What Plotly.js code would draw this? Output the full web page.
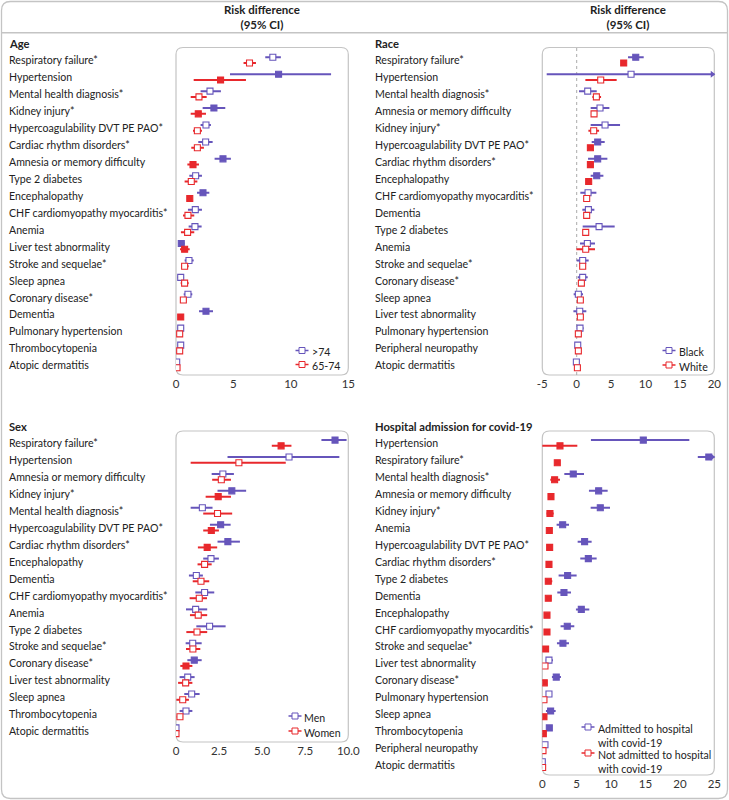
<!DOCTYPE html>
<html>
<head>
<meta charset="utf-8">
<script src="https://cdn.plot.ly/plotly-3.0.1.min.js"></script>
<style>
html,body{margin:0;padding:0;background:#fff;}
#chart{width:729px;height:800px;}
</style>
</head>
<body>
<div id="chart"></div>
<script>
// ---------------- DATA ----------------
// Age panel (purple: >74, red: 65-74)
var ageLabels = ["Respiratory failure*","Hypertension","Mental health diagnosis*","Kidney injury*","Hypercoagulability DVT PE PAO*","Cardiac rhythm disorders*","Amnesia or memory difficulty","Type 2 diabetes","Encephalopathy","CHF cardiomyopathy myocarditis*","Anemia","Liver test abnormality","Stroke and sequelae*","Sleep apnea","Coronary disease*","Dementia","Pulmonary hypertension","Thrombocytopenia","Atopic dermatitis"];
var ageOldEst = [8.43,8.93,2.96,3.30,2.61,2.58,4.09,1.71,2.35,1.68,1.65,0.46,1.13,0.41,1.04,2.61,0.41,0.41,0.06];
var ageOldLo  = [7.77,4.70,2.14,2.32,2.14,1.94,3.36,1.16,1.83,1.04,1.10,0.23,0.75,0.12,0.67,2.00,0.15,0.15,0.00];
var ageOldHi  = [9.13,13.50,3.91,4.29,3.04,3.19,4.78,2.26,2.90,2.26,2.23,0.75,1.54,0.70,1.42,3.22,0.70,0.68,0.15];
var ageYoungEst = [6.40,3.88,2.00,1.94,1.86,1.86,1.48,1.33,1.20,1.04,1.01,0.75,0.75,0.75,0.64,0.41,0.32,0.32,0.09];
var ageYoungLo  = [5.88,1.54,1.28,1.28,1.48,1.33,0.99,0.75,1.05,0.61,0.43,0.35,0.46,0.41,0.43,0.30,0.20,0.20,0.02];
var ageYoungHi  = [6.96,6.09,2.67,2.61,2.26,2.43,2.00,1.86,1.35,1.59,1.59,1.19,1.10,1.10,0.87,0.52,0.45,0.45,0.16];
var ageSig = [0,1,0,1,0,0,1,0,1,0,0,1,0,0,0,1,0,0,0];
var ageTicks = [0,5,10,15];
var ageTickText = ["0","5","10","15"];

// Race panel (purple: Black, red: White)
var raceLabels = ["Respiratory failure*","Hypertension","Mental health diagnosis*","Amnesia or memory difficulty","Kidney injury*","Hypercoagulability DVT PE PAO*","Cardiac rhythm disorders*","Encephalopathy","CHF cardiomyopathy myocarditis*","Dementia","Type 2 diabetes","Anemia","Stroke and sequelae*","Coronary disease*","Sleep apnea","Liver test abnormality","Pulmonary hypertension","Peripheral neuropathy","Atopic dermatitis"];
var raceBlackEst = [8.58,7.90,1.60,3.39,4.12,3.05,3.05,2.91,1.65,1.70,3.25,1.55,0.87,0.87,0.24,0.44,0.48,0.15,-0.05];
var raceBlackLo  = [7.46,-4.36,0.34,2.03,2.03,2.18,1.65,2.03,0.53,0.82,0.87,0.48,0.00,0.15,-0.44,-0.48,0.00,0.00,-0.20];
var raceBlackHi  = [9.74,24.00,2.91,4.75,6.30,4.07,4.46,3.88,2.86,2.57,5.52,2.66,1.74,1.60,0.92,1.40,1.00,0.30,0.10];
var raceWhiteEst = [6.83,3.49,2.86,2.52,2.47,1.99,1.99,1.74,1.45,1.45,1.31,1.31,0.87,0.68,0.53,0.53,0.24,0.24,0.10];
var raceWhiteLo  = [6.65,1.26,2.28,2.23,1.70,1.80,1.60,1.60,1.25,1.25,1.10,-0.05,0.70,0.50,0.35,0.15,0.10,0.10,0.00];
var raceWhiteHi  = [7.00,5.81,3.54,2.96,3.25,2.20,2.39,1.90,1.70,1.70,1.55,2.66,1.05,0.90,0.75,0.95,0.40,0.40,0.20];
var raceSig = [1,0,0,0,0,1,1,1,0,0,0,0,0,0,0,0,0,0,0];
var raceTicks = [-5,0,5,10,15,20];
var raceTickText = ["-5","0","5","10","15","20"];

// Sex panel (purple: Men, red: Women)
var sexLabels = ["Respiratory failure*","Hypertension","Amnesia or memory difficulty","Kidney injury*","Mental health diagnosis*","Hypercoagulability DVT PE PAO*","Cardiac rhythm disorders*","Encephalopathy","Dementia","CHF cardiomyopathy myocarditis*","Anemia","Type 2 diabetes","Stroke and sequelae*","Coronary disease*","Liver test abnormality","Sleep apnea","Thrombocytopenia","Atopic dermatitis"];
var sexMenEst = [9.23,6.56,2.72,3.24,1.53,2.59,3.01,2.03,1.18,1.66,1.14,1.95,0.97,1.06,0.68,0.91,0.58,0.00];
var sexMenLo  = [8.44,2.99,2.07,2.41,0.85,1.97,2.41,1.58,0.75,1.12,0.58,1.18,0.56,0.66,0.21,0.48,0.21,-0.05];
var sexMenHi  = [9.90,9.48,3.36,4.07,2.12,3.17,3.71,2.49,1.56,2.22,1.81,2.88,1.49,1.49,1.08,1.37,0.95,0.05];
var sexWomenEst = [6.10,3.65,2.63,2.45,2.41,2.05,1.81,1.66,1.45,1.35,1.29,1.22,0.98,0.58,0.56,0.39,0.23,0.00];
var sexWomenLo  = [5.56,0.85,2.10,1.72,1.58,1.58,1.27,1.25,0.97,0.79,0.81,0.60,0.58,0.25,0.12,0.02,0.04,-0.05];
var sexWomenHi  = [6.70,6.37,3.19,3.19,3.26,2.49,2.39,2.07,1.93,1.80,1.81,1.81,1.41,0.95,0.95,0.75,0.41,0.05];
var sexSig = [1,0,0,1,0,1,1,0,0,0,0,0,0,1,0,0,0,0];
var sexTicks = [0,2.5,5,7.5,10];
var sexTickText = ["0","2.5","5.0","7.5","10.0"];

// Hospital admission panel (purple: admitted, red: not admitted)
var hospLabels = ["Hypertension","Respiratory failure*","Mental health diagnosis*","Amnesia or memory difficulty","Kidney injury*","Anemia","Hypercoagulability DVT PE PAO*","Cardiac rhythm disorders*","Type 2 diabetes","Dementia","Encephalopathy","CHF cardiomyopathy myocarditis*","Stroke and sequelae*","Liver test abnormality","Coronary disease*","Pulmonary hypertension","Sleep apnea","Thrombocytopenia","Peripheral neuropathy","Atopic dermatitis"];
var hospInEst = [14.68,24.20,4.50,8.19,8.43,2.96,6.15,6.69,3.68,3.15,5.67,3.63,3.00,0.97,2.03,0.97,1.21,1.02,0.39,0.00];
var hospInLo  = [7.07,22.60,3.20,6.78,7.03,2.08,5.14,5.52,2.37,2.18,4.89,2.66,2.13,0.50,1.40,0.80,0.53,0.85,0.25,-0.10];
var hospInHi  = [21.37,26.00,6.06,9.50,9.84,3.88,7.17,7.90,4.99,4.17,6.83,4.65,3.88,1.55,2.71,1.15,1.94,1.20,0.55,0.10];
var hospOutEst = [2.57,2.18,1.79,1.26,1.11,1.02,1.07,0.97,0.87,0.87,0.68,0.68,0.48,0.39,0.29,0.24,0.24,0.15,0.10,0.05];
var hospOutLo  = [-0.10,2.00,1.16,1.10,0.63,0.90,0.95,0.85,0.44,0.75,0.55,0.55,0.35,0.25,0.18,0.12,0.12,0.05,0.00,-0.05];
var hospOutHi  = [5.09,2.36,2.57,1.42,1.65,1.15,1.20,1.10,1.45,1.00,0.80,0.80,0.62,0.55,0.40,0.36,0.36,0.25,0.20,0.15];
var hospSig = [1,1,1,1,1,1,1,1,1,1,1,1,1,0,1,0,1,1,0,0];
var hospTicks = [0,5,10,15,20,25];
var hospTickText = ["0","5","10","15","20","25"];

// ---------------- LAYOUT HELPERS ----------------
var W = 729, H = 800;
var PURPLE = "#6655bb", RED = "#e8282c";
var TXT = "#222222", BORDER = "#c4c4c4";
var FONT = "Lato, 'Noto Sans', sans-serif";
var LBL = 10.6;
var STEP = 16.93;
function px(x){ return x / W; }
function py(y){ return 1 - y / H; }

var panels = [
  {key:"", title:"Age", labels:ageLabels, range:[0,15], ticks:ageTicks, tickText:ageTickText,
   a:{est:ageOldEst, lo:ageOldLo, hi:ageOldHi, name:">74"},
   b:{est:ageYoungEst, lo:ageYoungLo, hi:ageYoungHi, name:"65-74"}, sig:ageSig,
   box:[176,47.5,348.3,375], row0:60.5, labelX:7, titleY:43.5, zero:false,
   leg:{mx:302, tx:310, ys:[350.5,364.5]}},
  {key:"2", title:"Race", labels:raceLabels, range:[-5,20], ticks:raceTicks, tickText:raceTickText,
   a:{est:raceBlackEst, lo:raceBlackLo, hi:raceBlackHi, name:"Black"},
   b:{est:raceWhiteEst, lo:raceWhiteLo, hi:raceWhiteHi, name:"White"}, sig:raceSig,
   box:[542.3,47.5,714.3,375], row0:60.5, labelX:373, titleY:43.5, zero:true,
   leg:{mx:669, tx:677, ys:[350.5,365]}},
  {key:"3", title:"Sex", labels:sexLabels, range:[0,10], ticks:sexTicks, tickText:sexTickText,
   a:{est:sexMenEst, lo:sexMenLo, hi:sexMenHi, name:"Men"},
   b:{est:sexWomenEst, lo:sexWomenLo, hi:sexWomenHi, name:"Women"}, sig:sexSig,
   box:[176,431,348.3,742], row0:443.3, labelX:7, titleY:427, zero:false,
   leg:{mx:295, tx:302, ys:[716,731]}},
  {key:"4", title:"Hospital admission for covid-19", labels:hospLabels, range:[0,25], ticks:hospTicks, tickText:hospTickText,
   a:{est:hospInEst, lo:hospInLo, hi:hospInHi, name:"Admitted to hospital<br>with covid-19"},
   b:{est:hospOutEst, lo:hospOutLo, hi:hospOutHi, name:"Not admitted to hospital<br>with covid-19"}, sig:hospSig,
   box:[542.3,431,714.3,775], row0:443.3, labelX:373, titleY:427, zero:false,
   leg:{mx:588, tx:596, ys:[727,753]}}
];

var data = [];
var layout = {
  width: W, height: H,
  margin: {l:0, r:0, t:0, b:0, pad:0},
  paper_bgcolor: "#ffffff", plot_bgcolor: "rgba(0,0,0,0)",
  showlegend: false,
  font: {family: FONT, size: 11, color: TXT},
  shapes: [], annotations: []
};

function roundRectPath(x0, y0, x1, y1, r){
  function P(x,y){ return px(x) + "," + py(y); }
  return "M" + P(x0 + r, y0) +
    " L" + P(x1 - r, y0) + " Q" + P(x1, y0) + " " + P(x1, y0 + r) +
    " L" + P(x1, y1 - r) + " Q" + P(x1, y1) + " " + P(x1 - r, y1) +
    " L" + P(x0 + r, y1) + " Q" + P(x0, y1) + " " + P(x0, y1 - r) +
    " L" + P(x0, y0 + r) + " Q" + P(x0, y0) + " " + P(x0 + r, y0) + " Z";
}

// outer frame and header rule
layout.shapes.push({type:"path", xref:"paper", yref:"paper", path: roundRectPath(1.5,1.5,727.5,798.5,9),
  line:{color:BORDER, width:1.3}, fillcolor:"rgba(0,0,0,0)", layer:"below"});
layout.shapes.push({type:"line", xref:"paper", yref:"paper", x0:px(1.5), x1:px(727.5), y0:py(32.7), y1:py(32.7),
  line:{color:BORDER, width:1.5}});

panels.forEach(function(p, idx){
  var xa = "x" + p.key, ya = "y" + p.key;
  var xName = "xaxis" + p.key, yName = "yaxis" + p.key;
  var bx0 = p.box[0], by0 = p.box[1], bx1 = p.box[2], by1 = p.box[3];

  layout[xName] = {
    domain: [px(bx0), px(bx1)], range: p.range, anchor: ya,
    showgrid:false, zeroline:false, showline:false, ticks:"",
    tickmode:"array", tickvals:p.ticks, ticktext:p.tickText,
    tickfont:{family:FONT, size:11.5, color:"#333"}, fixedrange:true
  };
  layout[yName] = {
    domain: [py(by1), py(by0)],
    range: [(by1 - p.row0) / STEP, (by0 - p.row0) / STEP],
    anchor: xa, showgrid:false, zeroline:false, showline:false,
    showticklabels:false, ticks:"", fixedrange:true
  };

  // rounded plot box
  layout.shapes.push({type:"path", xref:"paper", yref:"paper", path: roundRectPath(bx0,by0,bx1,by1,7),
    line:{color:BORDER, width:1.2}, fillcolor:"rgba(0,0,0,0)", layer:"below"});
  if (p.zero){
    layout.shapes.push({type:"line", xref:xa, yref:ya + " domain", x0:0, x1:0, y0:0, y1:1,
      line:{color:"#aaaaaa", width:1, dash:"dot"}, layer:"below"});
  }

  // panel title and row labels
  layout.annotations.push({xref:"paper", yref:"paper", x:px(p.labelX), y:py(p.titleY),
    xanchor:"left", yanchor:"middle", showarrow:false, text:"<b>" + p.title + "</b>",
    font:{family:FONT, size:11.2, color:TXT}});
  p.labels.forEach(function(lbl, i){
    layout.annotations.push({xref:"paper", yref:ya, x:px(p.labelX), y:i,
      xanchor:"left", yanchor:"middle", showarrow:false, text:lbl,
      font:{family:FONT, size:LBL, color:TXT}});
  });

  // series
  [[p.a, PURPLE, -0.19], [p.b, RED, 0.15]].forEach(function(s){
    var g = s[0], col = s[1], off = s[2];
    var ys = g.est.map(function(_, i){ return i + off; });
    data.push({
      type:"scatter", mode:"markers", xaxis:xa, yaxis:ya,
      x: g.est, y: ys, hoverinfo:"x",
      error_x: {type:"data", symmetric:false,
        array: g.hi.map(function(h, i){ return h - g.est[i]; }),
        arrayminus: g.lo.map(function(l, i){ return g.est[i] - l; }),
        color: col, thickness: 2, width: 0},
      marker: {symbol:"square", size:6,
        color: p.sig.map(function(sg){ return sg ? col : "#ffffff"; }),
        line:{color:col, width:1.1}}
    });
    // arrows for intervals running past the axis
    var ax = [], ay = [];
    g.hi.forEach(function(h, i){ if (h > p.range[1]) { ax.push(p.range[1] - (p.range[1]-p.range[0])*0.012); ay.push(ys[i]); } });
    if (ax.length){
      data.push({type:"scatter", mode:"markers", xaxis:xa, yaxis:ya, x:ax, y:ay, hoverinfo:"skip",
        cliponaxis:false, marker:{symbol:"triangle-right", size:6, color:col, line:{width:0}}});
    }
  });

  // manual legend
  [[p.a, PURPLE], [p.b, RED]].forEach(function(s, k){
    var g = s[0], col = s[1], yy = p.leg.ys[k];
    layout.shapes.push({type:"line", xref:"paper", yref:"paper",
      x0:px(p.leg.mx - 6.5), x1:px(p.leg.mx + 6.5), y0:py(yy), y1:py(yy), line:{color:col, width:1.5}});
    layout.shapes.push({type:"rect", xref:"paper", yref:"paper",
      x0:px(p.leg.mx - 3), x1:px(p.leg.mx + 3), y0:py(yy - 3), y1:py(yy + 3),
      line:{color:col, width:1}, fillcolor:"#ffffff"});
    var multi = g.name.indexOf("<br>") >= 0;
    layout.annotations.push({xref:"paper", yref:"paper", x:px(p.leg.tx), y:py(yy - 6.5),
      xanchor:"left", yanchor:"top", align:"left", showarrow:false, text:g.name,
      font:{family:FONT, size:LBL, color:TXT}});
  });

  // header (top row only)
  if (idx < 2){
    layout.annotations.push({xref:"paper", yref:"paper", x:px((bx0 + bx1) / 2), y:py(17),
      xanchor:"center", yanchor:"middle", showarrow:false,
      text:"<b>Risk difference</b><br><b>(95% CI)</b>",
      font:{family:FONT, size:11.5, color:TXT}});
  }
});

Plotly.newPlot("chart", data, layout, {displayModeBar:false, staticPlot:true});
</script>
</body>
</html>
